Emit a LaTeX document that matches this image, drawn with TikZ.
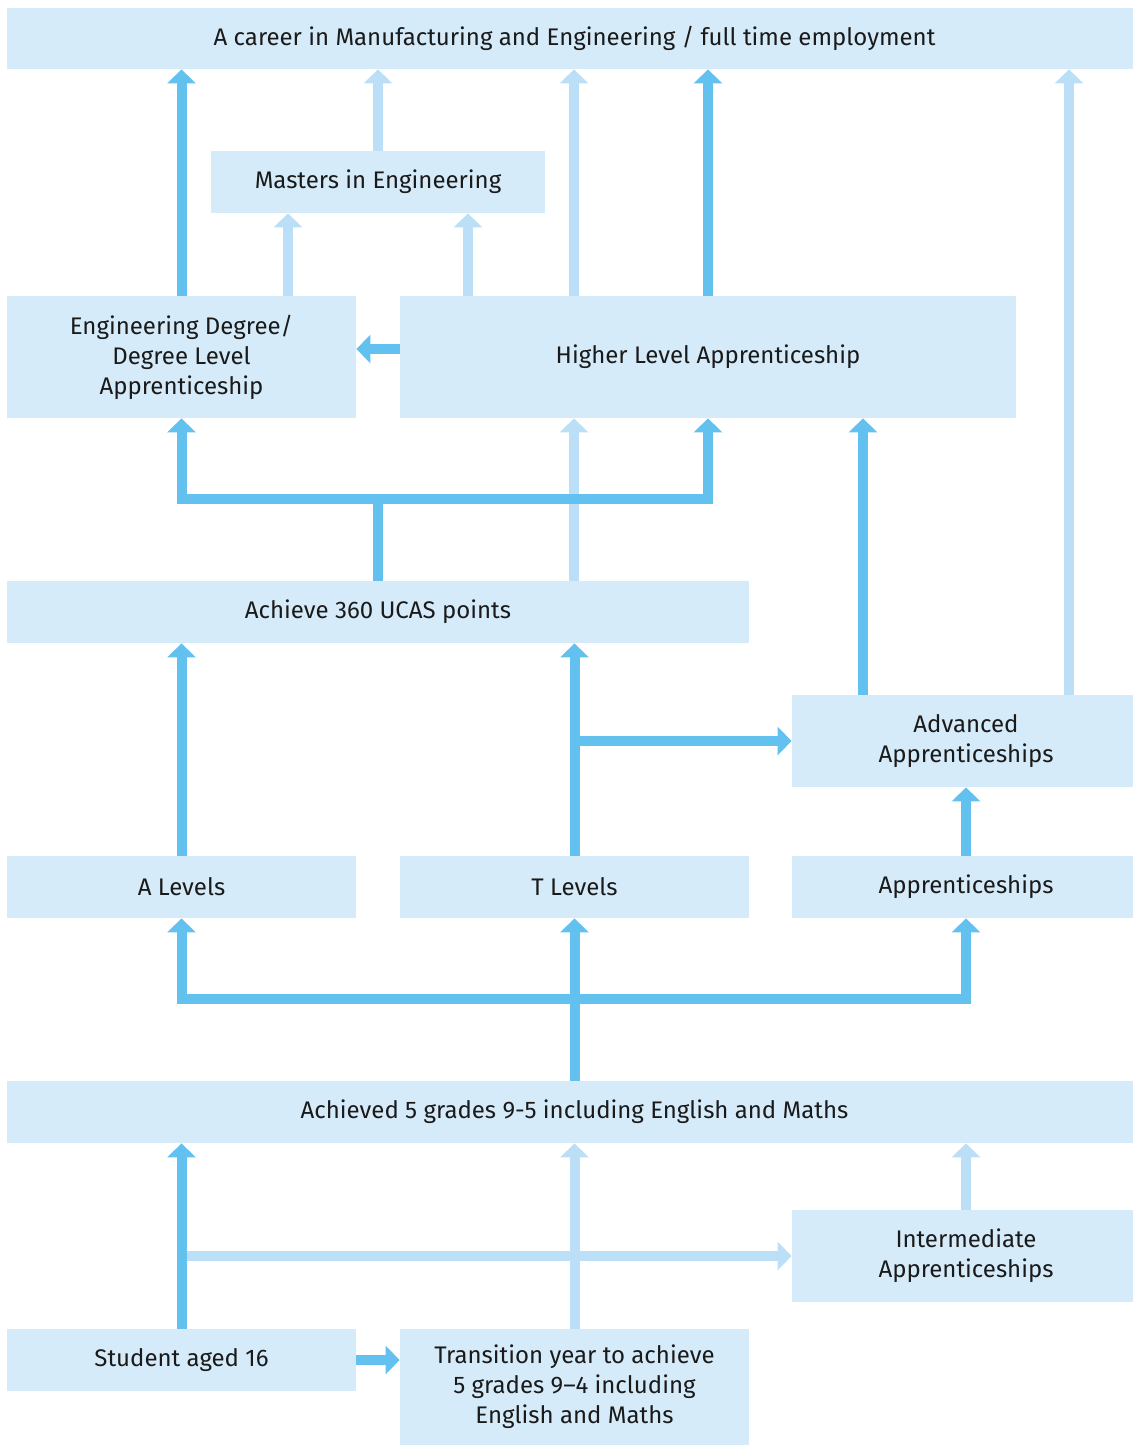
\documentclass[tikz,border=0pt]{standalone}
\usepackage{fontspec}
\setmainfont{Fira Sans}
\usepackage{xcolor}
\usetikzlibrary{arrows.meta,calc}

\definecolor{boxfill}{HTML}{D6EBFA}
\definecolor{darkarrow}{HTML}{62C1EF}
\definecolor{lightarrow}{HTML}{BBDFF7}
\definecolor{boxtext}{HTML}{1A1A1A}

\tikzset{
  stage/.style={fill=boxfill, draw=none, inner sep=0pt, align=center,
    text=boxtext, font=\fontsize{12}{15}\selectfont},
  dk/.style={draw=darkarrow, line width=5pt, -{Triangle[width=14pt,length=7pt]}},
  lt/.style={draw=lightarrow, line width=5pt, -{Triangle[width=14pt,length=7pt]}},
  dkline/.style={draw=darkarrow, line width=5pt},
}

\begin{document}
\begin{tikzpicture}[x=0.5pt, y=-0.5pt]
  \useasboundingbox (0,0) rectangle (1133,1446);

  % boxes
  \node (career) at (574.5,38.5) [stage, minimum width=567.5pt, minimum height=30.5pt] {A career in Manufacturing and Engineering / full time employment};
  \node (masters) at (378,182) [stage, minimum width=167pt, minimum height=31pt] {Masters in Engineering};
  \node (degree) at (181.5,357) [stage, minimum width=174.5pt, minimum height=61pt] {Engineering Degree/\\Degree Level\\Apprenticeship};
  \node (higher) at (708,357) [stage, minimum width=308pt, minimum height=61pt] {Higher Level Apprenticeship};
  \node (ucas) at (378,612) [stage, minimum width=371pt, minimum height=31pt] {Achieve 360 UCAS points};
  \node (advanced) at (966,741) [stage, minimum width=174pt, minimum height=46pt] {Advanced\\Apprenticeships};
  \node (alevels) at (181.5,887) [stage, minimum width=174.5pt, minimum height=31pt] {A Levels};
  \node (tlevels) at (574.5,887) [stage, minimum width=174.5pt, minimum height=31pt] {T Levels};
  \node (apprent) at (966,887) [stage, minimum width=174pt, minimum height=31pt] {Apprenticeships};
  \node (gcse) at (574.5,1112) [stage, minimum width=567.5pt, minimum height=31pt] {Achieved 5 grades 9-5 including English and Maths};
  \node (inter) at (966,1256) [stage, minimum width=174pt, minimum height=46pt] {Intermediate\\Apprenticeships};
  \node (student) at (181.5,1360) [stage, minimum width=174.5pt, minimum height=31pt] {Student aged 16};
  \node (trans) at (574.5,1387) [stage, minimum width=174.5pt, minimum height=58pt] {Transition year to achieve\\5 grades 9--4 including\\English and Maths};

  % helper points
  \coordinate (degR) at ($(degree.north)+(106.5,0)$);
  \coordinate (higL) at ($(higher.north)+(-240,0)$);
  \coordinate (higM) at ($(higher.north)+(-134,0)$);
  \coordinate (advL) at ($(advanced.north)+(-103,0)$);
  \coordinate (advR) at ($(advanced.north)+(103,0)$);
  \coordinate (ucasM) at ($(ucas.north)+(196,0)$);
  \coordinate (hlaW) at ($(higher.west)+(0,-8)$);
  \coordinate (jUcas) at ($(ucas.north)+(0,-82)$);
  \coordinate (jGcse) at ($(tlevels.south)+(0,81)$);
  \coordinate (jT) at (tlevels.north |- advanced.west);
  \coordinate (jS) at (student.north |- inter.west);

  % light arrows
  \draw[lt] (masters.north) -- (career.south -| masters.north);
  \draw[lt] (degR) -- (masters.south -| degR);
  \draw[lt] (higL) -- (masters.south -| higL);
  \draw[lt] (higM) -- (career.south -| higM);
  \draw[lt] (advR) -- (career.south -| advR);
  \draw[lt] (ucasM) -- (higher.south -| ucasM);
  \draw[lt] (trans.north) -- (gcse.south -| trans.north);
  \draw[lt] (inter.north) -- (gcse.south -| inter.north);
  \draw[lt] (jS) -- (inter.west);

  % dark arrows
  \draw[dk] (degree.north) -- (career.south -| degree.north);
  \draw[dk] (higher.north) -- (career.south -| higher.north);
  \draw[dk] (hlaW) -- (degree.east |- hlaW);
  \draw[dkline] (ucas.north) -- (jUcas);
  \draw[dk] (jUcas) -| (degree.south);
  \draw[dk] (jUcas) -| (higher.south);
  \draw[dk] (advL) -- (higher.south -| advL);
  \draw[dk] (alevels.north) -- (ucas.south -| alevels.north);
  \draw[dk] (tlevels.north) -- (ucas.south -| tlevels.north);
  \draw[dk] (jT) -- (advanced.west);
  \draw[dk] (apprent.north) -- (advanced.south);
  \draw[dkline] (gcse.north -| jGcse) -- (jGcse);
  \draw[dk] (jGcse) -| (alevels.south);
  \draw[dk] (jGcse) -- (tlevels.south);
  \draw[dk] (jGcse) -| (apprent.south);
  \draw[dk] (student.north) -- (gcse.south -| student.north);
  \draw[dk] (student.east) -- (trans.west |- student.east);
\end{tikzpicture}
\end{document}
